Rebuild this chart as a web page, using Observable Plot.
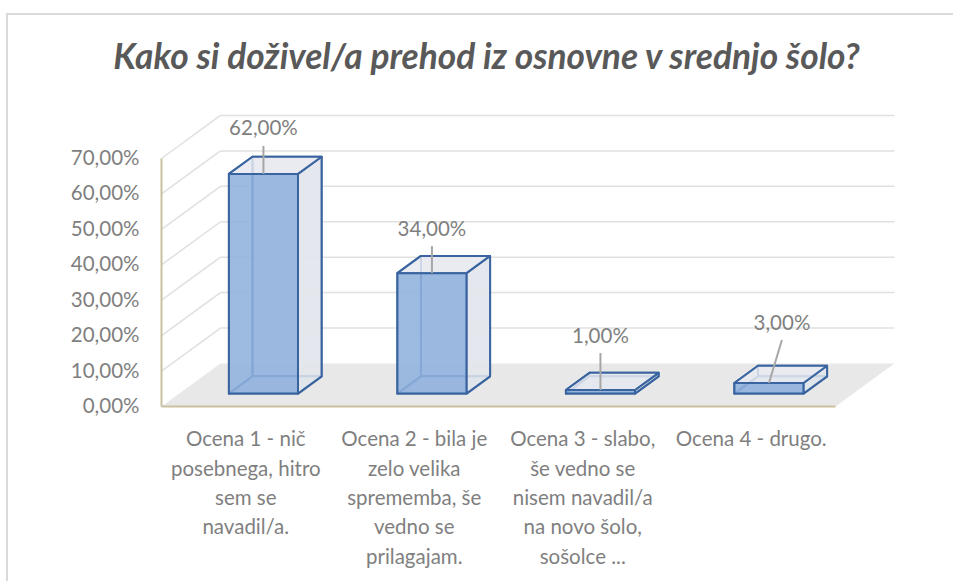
<!DOCTYPE html>
<html>
<head>
<meta charset="utf-8">
<script src="https://cdn.jsdelivr.net/npm/d3@7"></script>
<script src="https://cdn.jsdelivr.net/npm/@observablehq/plot@0.6"></script>
<style>
  html, body { margin: 0; padding: 0; background: #fff; }
  #wrap { position: relative; width: 953px; height: 581px; overflow: hidden; }
  #frame { position: absolute; left: 6px; top: 13px; width: 1000px; height: 700px;
           border-left: 2px solid #d9d9d9; border-top: 2px solid #d9d9d9; }
  #chart { position: absolute; left: 0; top: 0; }
</style>
</head>
<body>
<div id="wrap"><div id="frame"></div><div id="chart"></div></div>
<script>
// ---- data ----
const title = "Kako si doživel/a prehod iz osnovne v srednjo šolo?";
const categories = [
  "Ocena 1 - nič\nposebnega, hitro\nsem se\nnavadil/a.",
  "Ocena 2 - bila je\nzelo velika\nsprememba, še\nvedno se\nprilagajam.",
  "Ocena 3 - slabo,\nše vedno se\nnisem navadil/a\nna novo šolo,\nsošolce ...",
  "Ocena 4 - drugo."
];
const values = [62, 34, 1, 3];
const yTicks = [0, 10, 20, 30, 40, 50, 60, 70];

// ---- layout (oblique 3D projection, in data units) ----
const DX = 0.35;     // depth shift in category units
const DY = 12.15;    // depth shift in percent units
const W = 0.41;      // bar width
const Z0 = 0.3, Z1 = 0.7; // bar depth extent
const PXY = 70 / (406 - 158);   // percent per pixel
const PXX = 4 / 674;            // category units per pixel
const labelLift = [45, 44, 54, 60];  // px above bar's front-top edge
const labelShift = [0, 0, 0, 13];    // px horizontal shift of label
const FS = 20.5;

const fmt = d => d.toFixed(2).replace(".", ",") + "%";
const P = (x, y, z) => ({x: x + z * DX, y: y + z * DY});

const faces = {back: [], left: [], bottom: [], right: [], top: [], front: []};
values.forEach((v, i) => {
  const x0 = i + 0.5 - W / 2, x1 = x0 + W;
  const add = (name, pts) => pts.forEach(p => faces[name].push({...p, id: i}));
  add("back",   [P(x0,0,Z1), P(x1,0,Z1), P(x1,v,Z1), P(x0,v,Z1)]);
  add("left",   [P(x0,0,Z0), P(x0,0,Z1), P(x0,v,Z1), P(x0,v,Z0)]);
  add("bottom", [P(x0,0,Z0), P(x1,0,Z0), P(x1,0,Z1), P(x0,0,Z1)]);
  add("right",  [P(x1,0,Z0), P(x1,0,Z1), P(x1,v,Z1), P(x1,v,Z0)]);
  add("top",    [P(x0,v,Z0), P(x1,v,Z0), P(x1,v,Z1), P(x0,v,Z1)]);
  add("front",  [P(x0,0,Z0), P(x1,0,Z0), P(x1,v,Z0), P(x0,v,Z0)]);
});

const floor = [P(0,0,0), P(4,0,0), P(4,0,1), P(0,0,1)];
const gridVals = yTicks.filter(d => d > 0);

const labels = values.map((v, i) => {
  const a = P(i + 0.5, v, Z0);
  const lx = a.x + labelShift[i] * PXX;
  const ly = a.y + labelLift[i] * PXY;
  return {ax: a.x, ay: a.y, lx, ly, ty: ly - 17 * PXY, text: fmt(v)};
});

const edge = "#3a64a0";
const faceStyle = {x: "x", y: "y", z: "id", curve: "linear-closed", stroke: edge, strokeWidth: 2, strokeLinejoin: "round"};

const chart = Plot.plot({
  width: 953,
  height: 581,
  marginLeft: 161,
  marginRight: 118,
  marginTop: 158,
  marginBottom: 175,
  style: {fontFamily: "Lato, sans-serif", fontSize: FS + "px", color: "#7f7f7f", background: "transparent", overflow: "visible"},
  x: {type: "linear", domain: [0, 4], axis: null},
  y: {domain: [0, 70], axis: null},
  marks: [
    // floor
    Plot.line(floor, {x: "x", y: "y", curve: "linear-closed", fill: "#e8e8e8", stroke: "none"}),
    // back wall gridlines
    Plot.link(gridVals, {x1: DX, x2: 4 + DX, y1: d => d + DY, y2: d => d + DY, stroke: "#e0e0e0", strokeWidth: 1.5}),
    // side wall gridlines
    Plot.link(gridVals, {x1: 0, x2: DX, y1: d => d, y2: d => d + DY, stroke: "#e0e0e0", strokeWidth: 1.5}),
    // axis lines
    Plot.link([0], {x1: 0, x2: 0, y1: 0, y2: 70, stroke: "#c9c09f", strokeWidth: 2}),
    Plot.link([0], {x1: 0, x2: 4, y1: 0, y2: 0, stroke: "#c9c09f", strokeWidth: 2}),
    // y axis labels
    Plot.axisY(yTicks, {tickSize: 0, tickPadding: 22, tickFormat: fmt, fill: "#7f7f7f", fontSize: FS}),
    // bars
    Plot.line(faces.back,   {...faceStyle, fill: "#e4e8ee", fillOpacity: 0.6}),
    Plot.line(faces.left,   {...faceStyle, fill: "none"}),
    Plot.line(faces.bottom, {...faceStyle, fill: "#d3d9e2", fillOpacity: 0.8}),
    Plot.line(faces.right,  {...faceStyle, fill: "#e2e6ec", fillOpacity: 0.85}),
    Plot.line(faces.top,    {...faceStyle, fill: "#e7eaf0", fillOpacity: 0.85}),
    Plot.line(faces.front,  {...faceStyle, fill: "#8fb1dd", fillOpacity: 0.88}),
    // data label leaders and labels
    Plot.link(labels, {x1: "ax", y1: "ay", x2: "lx", y2: "ty", stroke: "#a6a6a6", strokeWidth: 2}),
    Plot.text(labels, {x: "lx", y: "ly", text: "text", fill: "#7f7f7f", fontSize: FS}),
    // category labels
    Plot.text(categories, {x: (d, i) => i + 0.5, y: 0, text: d => d, lineAnchor: "top", lineHeight: 1.43, dy: 19, fill: "#7f7f7f", fontSize: FS}),
    // title
    Plot.text([title], {frameAnchor: "top", lineAnchor: "middle", dx: -12, dy: -101, text: d => d, fill: "#595959", fontSize: 35.3, fontWeight: "bold", fontStyle: "italic"})
  ]
});
document.getElementById("chart").appendChild(chart);
</script>
</body>
</html>
